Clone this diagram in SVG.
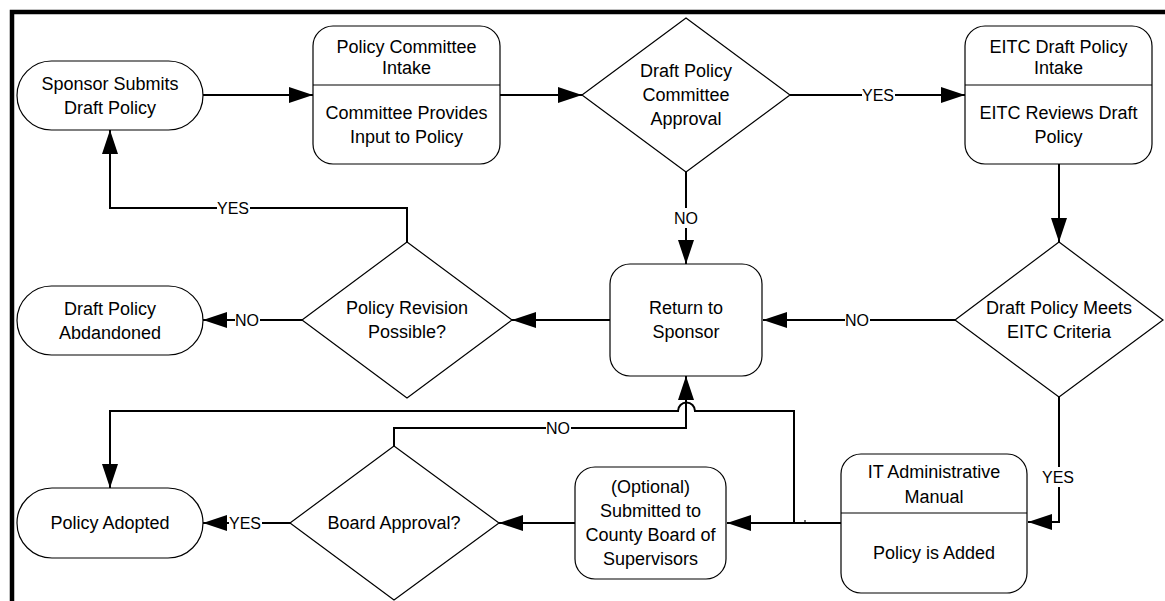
<svg xmlns="http://www.w3.org/2000/svg" width="1165" height="601" viewBox="0 0 1165 601">
<style>
.shape{fill:#fff;stroke:#000;stroke-width:1.2}
.div{stroke:#000;stroke-width:1.2}
.t{font-family:"Liberation Sans",Arial,sans-serif;font-size:18px;fill:#000;text-anchor:middle}
.lbl{font-family:"Liberation Sans",Arial,sans-serif;font-size:16px;fill:#000;text-anchor:middle}
.c{fill:none;stroke:#000;stroke-width:2}
.bg{fill:#fff}
</style>
<defs>
<marker id="arr" markerUnits="userSpaceOnUse" markerWidth="24" markerHeight="16" refX="24" refY="8" orient="auto">
<path d="M0,0 L24,8 L0,16 z" fill="#000"/>
</marker>
</defs>
<rect width="1165" height="601" fill="#fff"/>
<path d="M12,601 V12 H1165" fill="none" stroke="#000" stroke-width="4.5"/>

<g id="connectors">
<path class="c" d="M203,95 H313" marker-end="url(#arr)"/>
<path class="c" d="M500,95 H582" marker-end="url(#arr)"/>
<path class="c" d="M790,95 H965" marker-end="url(#arr)"/>
<path class="c" d="M1059,164 V242" marker-end="url(#arr)"/>
<path class="c" d="M686,172 V264" marker-end="url(#arr)"/>
<path class="c" d="M955,320 H763" marker-end="url(#arr)"/>
<path class="c" d="M610,320 H512" marker-end="url(#arr)"/>
<path class="c" d="M407,242 V208 H110 V130" marker-end="url(#arr)"/>
<path class="c" d="M302,320 H203" marker-end="url(#arr)"/>
<path class="c" d="M1059,397 V522 H1028" marker-end="url(#arr)"/>
<path class="c" d="M841,523 H727" marker-end="url(#arr)"/>
<path class="c" d="M794,523 V411 H695 A8.5,8.5 0 0 0 678,411 H110 V488" marker-end="url(#arr)"/>
<path class="c" d="M394,446 V428 H686 V376" marker-end="url(#arr)"/>
<path class="c" d="M575,523 H499" marker-end="url(#arr)"/>
<path class="c" d="M290,523 H203" marker-end="url(#arr)"/>
<path d="M805,520 V523" stroke="#000" stroke-width="1.2"/>
<rect class="bg" x="862" y="85" width="33" height="20"/><text class="lbl" x="878" y="101">YES</text>
<rect class="bg" x="674" y="208" width="25" height="20"/><text class="lbl" x="686" y="224">NO</text>
<rect class="bg" x="217" y="198" width="33" height="20"/><text class="lbl" x="233" y="214">YES</text>
<rect class="bg" x="235" y="310" width="25" height="20"/><text class="lbl" x="247" y="326">NO</text>
<rect class="bg" x="845" y="310" width="25" height="20"/><text class="lbl" x="857" y="326">NO</text>
<rect class="bg" x="1042" y="467" width="33" height="20"/><text class="lbl" x="1058" y="483">YES</text>
<rect class="bg" x="546" y="418" width="25" height="20"/><text class="lbl" x="558" y="434">NO</text>
<rect class="bg" x="229" y="513" width="33" height="20"/><text class="lbl" x="245" y="529">YES</text>
</g>

<g id="sponsor-submits">
<rect class="shape" x="17" y="61" width="186" height="69" rx="34.5"/>
<text class="t" x="110" y="90">Sponsor Submits</text>
<text class="t" x="110" y="114">Draft Policy</text>
</g>

<g id="policy-committee-intake">
<rect class="shape" x="313" y="26" width="187" height="138" rx="20"/>
<line class="div" x1="313" y1="85" x2="500" y2="85"/>
<text class="t" x="406.5" y="53">Policy Committee</text>
<text class="t" x="406.5" y="74">Intake</text>
<text class="t" x="406.5" y="119">Committee Provides</text>
<text class="t" x="406.5" y="143">Input to Policy</text>
</g>

<g id="committee-approval">
<polygon class="shape" points="686,18 790,95 686,172 582,95"/>
<text class="t" x="686" y="77">Draft Policy</text>
<text class="t" x="686" y="101">Committee</text>
<text class="t" x="686" y="125">Approval</text>
</g>

<g id="eitc-intake">
<rect class="shape" x="965" y="26" width="187" height="138" rx="20"/>
<line class="div" x1="965" y1="85" x2="1152" y2="85"/>
<text class="t" x="1058.5" y="53">EITC Draft Policy</text>
<text class="t" x="1058.5" y="74">Intake</text>
<text class="t" x="1058.5" y="119">EITC Reviews Draft</text>
<text class="t" x="1058.5" y="143">Policy</text>
</g>

<g id="eitc-criteria">
<polygon class="shape" points="1059,242 1163,320 1059,397 955,320"/>
<text class="t" x="1059" y="314">Draft Policy Meets</text>
<text class="t" x="1059" y="338">EITC Criteria</text>
</g>

<g id="return-to-sponsor">
<rect class="shape" x="610" y="264" width="152" height="112" rx="20"/>
<text class="t" x="686" y="314">Return to</text>
<text class="t" x="686" y="338">Sponsor</text>
</g>

<g id="revision-possible">
<polygon class="shape" points="407,242 512,320 407,398 302,320"/>
<text class="t" x="407" y="314">Policy Revision</text>
<text class="t" x="407" y="338">Possible?</text>
</g>

<g id="draft-abandoned">
<rect class="shape" x="17" y="286" width="186" height="69" rx="34.5"/>
<text class="t" x="110" y="315">Draft Policy</text>
<text class="t" x="110" y="339">Abdandoned</text>
</g>

<g id="it-manual">
<rect class="shape" x="841" y="454" width="186" height="139" rx="20"/>
<line class="div" x1="841" y1="513" x2="1027" y2="513"/>
<text class="t" x="934" y="478">IT Administrative</text>
<text class="t" x="934" y="503">Manual</text>
<text class="t" x="934" y="559">Policy is Added</text>
</g>

<g id="county-board">
<rect class="shape" x="575" y="467" width="151" height="112" rx="20"/>
<text class="t" x="650.5" y="493">(Optional)</text>
<text class="t" x="650.5" y="517">Submitted to</text>
<text class="t" x="650.5" y="541">County Board of</text>
<text class="t" x="650.5" y="565">Supervisors</text>
</g>

<g id="board-approval">
<polygon class="shape" points="394,446 499,523 394,600 290,523"/>
<text class="t" x="394" y="529">Board Approval?</text>
</g>

<g id="policy-adopted">
<rect class="shape" x="17" y="488" width="186" height="70" rx="35"/>
<text class="t" x="110" y="529">Policy Adopted</text>
</g>
</svg>
